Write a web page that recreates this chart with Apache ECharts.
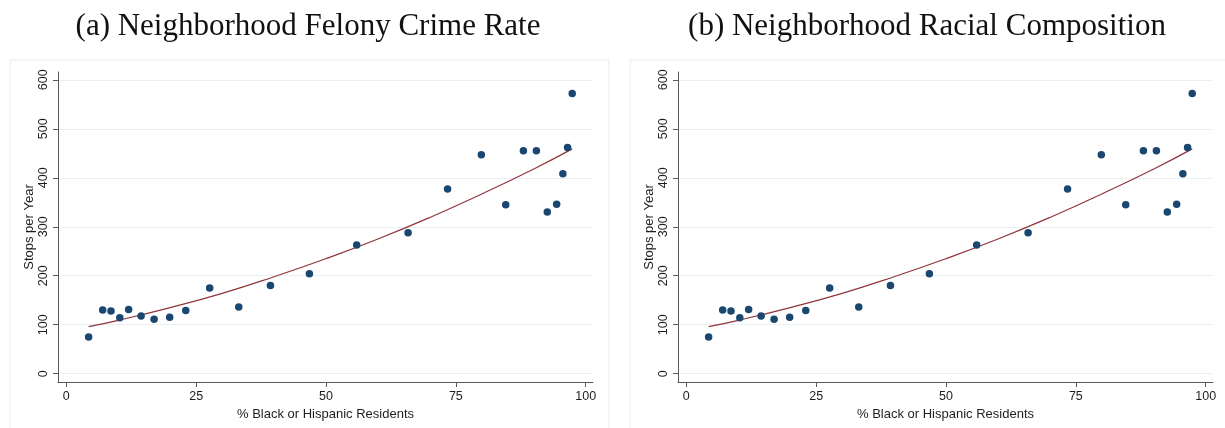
<!DOCTYPE html>
<html>
<head>
<meta charset="utf-8">
<script src="https://cdn.jsdelivr.net/npm/echarts@6/dist/echarts.min.js"></script>
<style>
  html, body { margin: 0; padding: 0; background: #ffffff; }
  #chart { width: 1225px; height: 428px; }
</style>
</head>
<body>
<div id="chart"></div>
<script>
// Neighborhood-level averages: share of Black or Hispanic residents (%) and stops per year
const pctBlackHispanic = [4.3, 7.0, 8.6, 10.3, 12.0, 14.4, 16.9, 19.9, 23.0, 27.6, 33.2, 39.3, 46.8,
                          55.9, 65.8, 73.4, 79.9, 84.6, 88.0, 90.5, 92.6, 94.4, 95.6, 96.5, 97.4];
const stopsPerYear = [75, 130, 128, 114, 131, 118, 111, 115, 129, 175, 136, 180, 204,
                      263, 288, 377, 447, 345, 455, 455, 330, 346, 408, 462, 572];

// Fitted curve (quadratic fit), sampled along the x range
const fitX = [4.3, 10, 20, 30, 40, 50, 60, 70, 80, 90, 97.4];
const fitY = [96, 109, 135, 164, 198, 235, 275, 319, 367, 418, 459];

const xTicks = [0, 25, 50, 75, 100];
const yTicks = [0, 100, 200, 300, 400, 500, 600];

const panelTitles = ['(a) Neighborhood Felony Crime Rate', '(b) Neighborhood Racial Composition'];
const xAxisTitle = '% Black or Hispanic Residents';
const yAxisTitle = 'Stops per Year';

const AXIS_COLOR = '#5a5a5a';
const TEXT_COLOR = '#1e1e1e';
const GRID_COLOR = '#e8f0f1';
const DOT_COLOR = '#1a476f';
const FIT_COLOR = '#90353b';
const SANS = '"Liberation Sans", Arial, Helvetica, sans-serif';

const points = pctBlackHispanic.map((x, i) => [x, stopsPerYear[i]]);
const fitLine = fitX.map((x, i) => [x, fitY[i]]);

// Two identical panels side by side
const panelLeft = [58, 678];
const titleCenter = [303, 922];
const frameLeft = [7.5, 627.5];

const grids = [], xAxes = [], yAxes = [], series = [], titles = [], frames = [];
panelLeft.forEach((left, i) => {
  grids.push({ left: left, top: 72, width: 535, height: 310, containLabel: false });
  titles.push({
    text: panelTitles[i], left: titleCenter[i], top: 6, textAlign: 'center',
    textStyle: { fontFamily: '"Liberation Serif", "DejaVu Serif", serif', fontWeight: 'normal', fontSize: 31, color: '#111' }
  });
  frames.push({
    type: 'rect', left: frameLeft[i], top: 57.5, z: -1,
    shape: { width: 599, height: 390 },
    style: { fill: 'none', stroke: '#e3ecee', lineWidth: 1 }
  });
  xAxes.push({
    gridIndex: i, type: 'value', min: -1.6, max: 101.4,
    name: xAxisTitle, nameLocation: 'middle', nameGap: 22,
    nameTextStyle: { fontFamily: SANS, fontSize: 13, color: TEXT_COLOR },
    axisLine: { show: true, onZero: false, lineStyle: { color: AXIS_COLOR, width: 1 } },
    axisTick: { show: true, length: 5, customValues: xTicks, lineStyle: { color: AXIS_COLOR } },
    axisLabel: { customValues: xTicks, margin: 8, fontFamily: SANS, fontSize: 12.5, color: TEXT_COLOR },
    splitLine: { show: false }
  });
  yAxes.push({
    gridIndex: i, type: 'value', min: -17, max: 616,
    name: yAxisTitle, nameLocation: 'middle', nameGap: 22,
    nameTextStyle: { fontFamily: SANS, fontSize: 13, color: TEXT_COLOR },
    axisLine: { show: true, onZero: false, lineStyle: { color: AXIS_COLOR, width: 1 } },
    axisTick: { show: true, length: 5, customValues: yTicks, lineStyle: { color: AXIS_COLOR } },
    axisLabel: { customValues: yTicks, rotate: 90, margin: 8, fontFamily: SANS, fontSize: 12.5, color: TEXT_COLOR },
    splitLine: { show: true, lineStyle: { color: GRID_COLOR, width: 1 } }
  });
  series.push({
    type: 'scatter', xAxisIndex: i, yAxisIndex: i, data: points,
    symbol: 'circle', symbolSize: 7.5, itemStyle: { color: DOT_COLOR, opacity: 1 }, z: 3
  });
  series.push({
    type: 'line', xAxisIndex: i, yAxisIndex: i, data: fitLine, smooth: true,
    showSymbol: false, lineStyle: { color: FIT_COLOR, width: 1.2 }, z: 2
  });
});

const chart = echarts.init(document.getElementById('chart'), null, { renderer: 'canvas' });
chart.setOption({
  animation: false,
  backgroundColor: '#ffffff',
  title: titles,
  grid: grids,
  xAxis: xAxes,
  yAxis: yAxes,
  series: series,
  graphic: frames
});
</script>
</body>
</html>
